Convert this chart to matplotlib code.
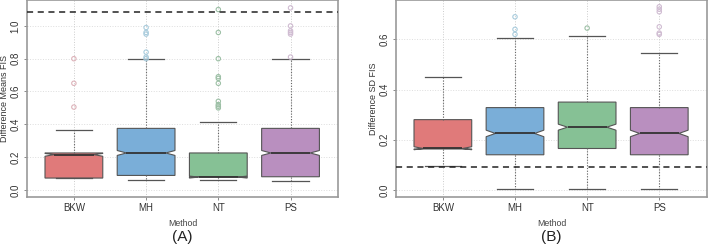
import matplotlib.pyplot as plt
import numpy as np

plt.rcParams['font.family'] = ['Liberation Sans', 'DejaVu Sans']

methods = ['BKW', 'MH', 'NT', 'PS']
colors = ['#E07A7A', '#7AAED8', '#86C195', '#B98FBF']
flier_colors = ['#DDB3BA', '#A9CCDD', '#9DC0A6', '#D0BCD2']

# panel A: difference of means FIS
a_whislo = [0.072, 0.058, 0.058, 0.055]
a_q1 = [0.072, 0.088, 0.080, 0.080]
a_med = [0.215, 0.225, 0.078, 0.225]
a_q3 = [0.225, 0.375, 0.225, 0.375]
a_whishi = [0.365, 0.800, 0.415, 0.800]
a_cilo = [0.205, 0.210, 0.072, 0.210]
a_cihi = [0.222, 0.240, 0.084, 0.240]
a_fliers = [[0.505, 0.65, 0.80],
            [0.80, 0.81, 0.84, 0.95, 0.96, 0.99],
            [0.50, 0.51, 0.52, 0.54, 0.65, 0.68, 0.69, 0.80, 0.96, 1.10],
            [0.81, 0.95, 0.96, 0.97, 1.00, 1.11]]
a_ref = 1.085

# panel B: difference of SD FIS
b_whislo = [0.095, 0.005, 0.005, 0.005]
b_q1 = [0.163, 0.140, 0.165, 0.140]
b_med = [0.165, 0.225, 0.250, 0.225]
b_q3 = [0.280, 0.328, 0.350, 0.328]
b_whishi = [0.450, 0.605, 0.615, 0.545]
b_cilo = [0.160, 0.212, 0.238, 0.212]
b_cihi = [0.172, 0.238, 0.262, 0.238]
b_fliers = [[],
            [0.62, 0.64, 0.69],
            [0.645],
            [0.62, 0.625, 0.65, 0.71, 0.72, 0.73]]
b_ref = 0.092

WIDTH = 0.8


def panel(ax, whislo, q1, med, q3, whishi, cilo, cihi, fliers, ref, yticks, ylim, ylabel, tag):
    stats = []
    for i in range(len(methods)):
        stats.append(dict(whislo=whislo[i], q1=q1[i], med=med[i], q3=q3[i],
                          whishi=whishi[i], cilo=cilo[i], cihi=cihi[i],
                          fliers=[], label=methods[i]))
    pos = np.arange(1, len(methods) + 1)
    for y in yticks:
        ax.axhline(y, color='#dddddd', lw=0.7, ls=':', zorder=0)
    for p in pos:
        ax.axvline(p, color='#cccccc', lw=0.7, ls=':', zorder=0)
    bp = ax.bxp(stats, positions=pos, widths=WIDTH, shownotches=True, patch_artist=True,
                showfliers=False,
                boxprops=dict(edgecolor='#555555', linewidth=0.8),
                medianprops=dict(color='#333333', linewidth=1.3),
                whiskerprops=dict(color='#666666', linewidth=0.8, linestyle=(0, (1, 1.5))),
                capprops=dict(color='#555555', linewidth=0.9), capwidths=0.5)
    for patch, c, p in zip(bp['boxes'], colors, pos):
        patch.set_facecolor(c)
        patch.set_zorder(2)
        # shallower notches, like R's
        verts = patch.get_path().vertices
        inner = np.abs(np.abs(verts[:, 0] - p) - WIDTH / 4) < 1e-9
        verts[inner, 0] = p + np.sign(verts[inner, 0] - p) * WIDTH * 0.34
    for med_line, p in zip(bp['medians'], pos):
        med_line.set_xdata([p - WIDTH * 0.34, p + WIDTH * 0.34])
    for p, f, c in zip(pos, fliers, flier_colors):
        ax.scatter([p] * len(f), f, s=10, facecolors='none', edgecolors=c, linewidths=0.8, zorder=3)
    ax.axhline(ref, color='#222222', lw=1.1, ls=(0, (4, 3)), zorder=4)
    ax.set_xlim(0.35, 4.66)
    ax.set_ylim(*ylim)
    ax.set_yticks(yticks)
    ax.set_yticklabels([f'{y:.1f}' for y in yticks], rotation=90, va='center', fontsize=7, color='#333333')
    ax.set_xticks(pos)
    ax.set_xticklabels(methods, fontsize=7, color='#333333')
    ax.tick_params(length=2.5, width=0.6, color='#777777', pad=2)
    for s in ax.spines.values():
        s.set_color('#999999')
        s.set_linewidth(1.2)
    ax.set_ylabel(ylabel, fontsize=6.5, color='#333333', labelpad=1.5)
    ax.set_xlabel('Method', fontsize=6.3, color='#444444', labelpad=4)
    ax.text(0.5, -0.205, tag, transform=ax.transAxes, ha='center', va='center', fontsize=11, color='#222222')


fig = plt.figure(figsize=(7.09, 2.44), dpi=100)
ax1 = fig.add_axes([0.038, 0.193, 0.439, 0.805])
ax2 = fig.add_axes([0.5585, 0.193, 0.4385, 0.805])

panel(ax1, a_whislo, a_q1, a_med, a_q3, a_whishi, a_cilo, a_cihi, a_fliers, a_ref,
      [0.0, 0.2, 0.4, 0.6, 0.8, 1.0], (-0.043, 1.155), 'Difference Means FIS', '(A)')
panel(ax2, b_whislo, b_q1, b_med, b_q3, b_whishi, b_cilo, b_cihi, b_fliers, b_ref,
      [0.0, 0.2, 0.4, 0.6], (-0.028, 0.755), 'Difference SD FIS', '(B)')

fig.savefig('out.png', dpi=100)
